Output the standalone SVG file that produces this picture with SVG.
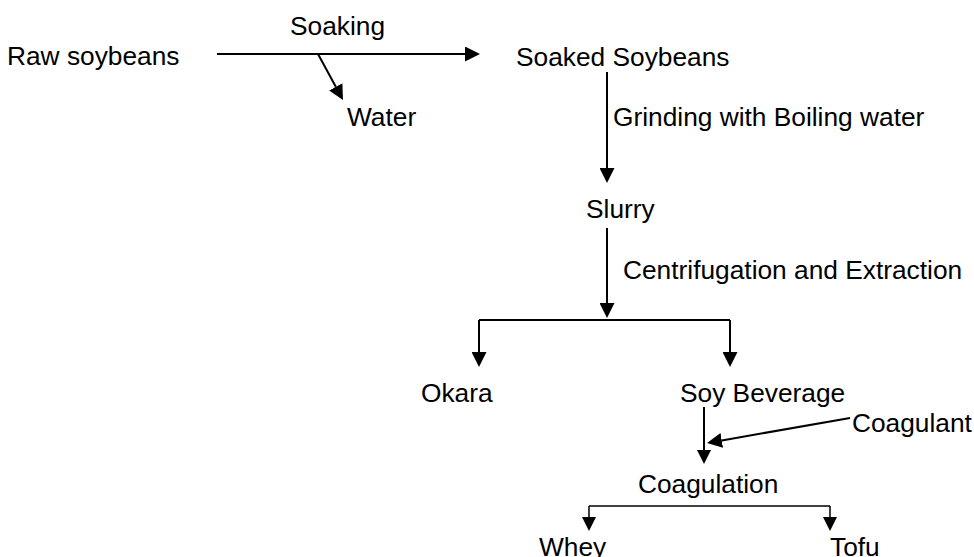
<svg xmlns="http://www.w3.org/2000/svg" width="974" height="557" viewBox="0 0 974 557">
<style>
text{font-family:"Liberation Sans",Arial,sans-serif;font-size:26.3px;fill:#000}
.c{fill:none;stroke:#000;stroke-width:2}
.t{fill:none;stroke:#000;stroke-width:1.5}
</style>
<defs>
<marker id="ah" viewBox="0 0 15 15" refX="0" refY="7.5" markerWidth="15" markerHeight="15" markerUnits="userSpaceOnUse" orient="auto"><path d="M0,0L15,7.5L0,15z" fill="#000"/></marker>
<marker id="as" viewBox="0 0 14 14" refX="0" refY="7" markerWidth="14" markerHeight="14" markerUnits="userSpaceOnUse" orient="auto"><path d="M0,0L14,7L0,14z" fill="#000"/></marker>
</defs>
<rect width="974" height="557" fill="#fff"/>
<g id="connectors">
<path class="c" d="M217,54H465" marker-end="url(#ah)"/>
<path class="c" d="M318,54L335.8,86.8" marker-end="url(#ah)"/>
<path class="c" d="M607,72V168" marker-end="url(#ah)"/>
<path class="c" d="M607,228V303" marker-end="url(#ah)"/>
<path class="c" d="M479,320H730"/>
<path class="c" d="M479,320V352" marker-end="url(#ah)"/>
<path class="c" d="M730,320V352" marker-end="url(#ah)"/>
<path class="c" d="M704,407V450" marker-end="url(#as)"/>
<path class="c" d="M850,418L721.8,440.4" marker-end="url(#ah)"/>
<path class="t" d="M589,506H830"/>
<path class="t" d="M589,506V517" marker-end="url(#as)"/>
<path class="t" d="M830,506V517" marker-end="url(#as)"/>
</g>
<g id="raw"><text x="7" y="65">Raw soybeans</text></g>
<g id="soaking"><text x="290" y="35">Soaking</text></g>
<g id="water"><text x="347" y="126">Water</text></g>
<g id="soaked"><text x="516" y="66">Soaked Soybeans</text></g>
<g id="grinding"><text x="613" y="126">Grinding with Boiling water</text></g>
<g id="slurry"><text x="586" y="218">Slurry</text></g>
<g id="centrifugation"><text x="623" y="279">Centrifugation and Extraction</text></g>
<g id="okara"><text x="421" y="402">Okara</text></g>
<g id="soybeverage"><text x="680" y="402">Soy Beverage</text></g>
<g id="coagulant"><text x="852" y="432">Coagulant</text></g>
<g id="coagulation"><text x="638" y="493">Coagulation</text></g>
<g id="whey"><text x="539" y="556">Whey</text></g>
<g id="tofu"><text x="830" y="556">Tofu</text></g>
</svg>
